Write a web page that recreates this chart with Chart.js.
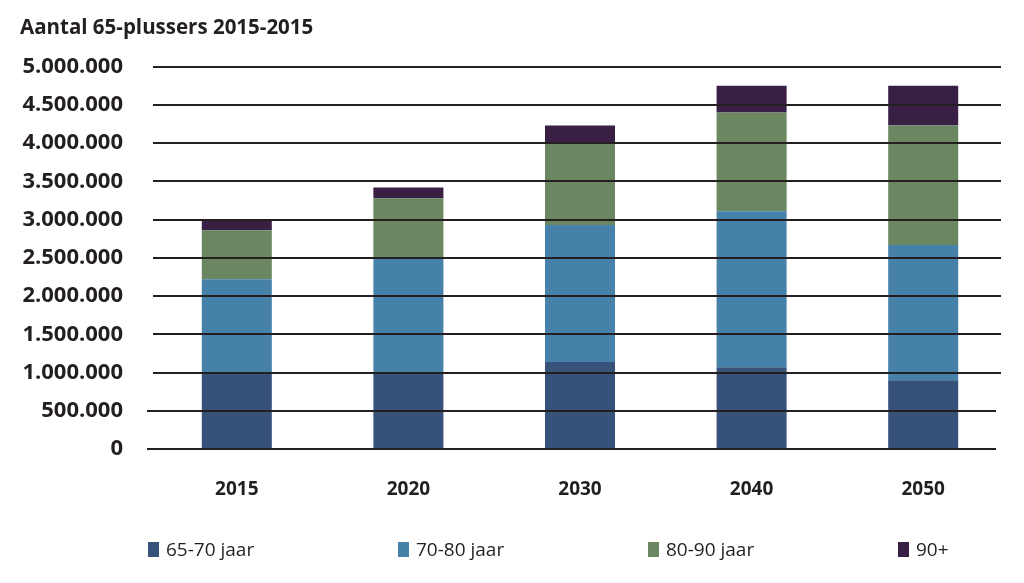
<!DOCTYPE html>
<html>
<head>
<meta charset="utf-8">
<script src="https://cdn.jsdelivr.net/npm/chart.js@4/dist/chart.umd.min.js"></script>
<style>
  body { margin: 0; background: #fff; }
  #wrap { position: relative; width: 1024px; height: 583px; }
  #legend {
    position: absolute; left: 148px; top: 536px;
    display: flex; font-family: "Open Sans", sans-serif; font-size: 19px; color: #231f20;
  }
  #legend .item { width: 250px; display: flex; align-items: center; }
  #legend .box { width: 11px; height: 15px; margin-right: 7px; }
</style>
</head>
<body>
<div id="wrap">
  <canvas id="chart" width="1024" height="583"></canvas>
  <div id="legend"></div>
</div>
<script>
const years = ["2015", "2020", "2030", "2040", "2050"];
const seriesNames = ["65-70 jaar", "70-80 jaar", "80-90 jaar", "90+"];
const age65to70 = [1000000, 1000000, 1140000, 1070000, 900000];
const age70to80 = [1220000, 1500000, 1790000, 2040000, 1770000];
const age80to90 = [640000, 780000, 1070000, 1290000, 1560000];
const age90plus = [140000, 140000, 230000, 350000, 520000];
const yTicks = [0, 500000, 1000000, 1500000, 2000000, 2500000, 3000000, 3500000, 4000000, 4500000, 5000000];

const colors = ["#36527a", "#4581a8", "#6a8762", "#3a1f45"];
const allSeries = [age65to70, age70to80, age80to90, age90plus];

// Dutch style thousands separator
function formatNum(v) {
  return String(v).replace(/\B(?=(\d{3})+(?!\d))/g, ".");
}

// draws the horizontal lines on top of the bars, like the original
const gridOnTop = {
  id: "gridOnTop",
  afterDatasetsDraw(chart) {
    const ctx = chart.ctx;
    const y = chart.scales.y;
    const area = chart.chartArea;
    ctx.save();
    ctx.strokeStyle = "#231f20";
    ctx.lineWidth = 2;
    yTicks.forEach((t) => {
      const py = Math.round(y.getPixelForValue(t));
      ctx.beginPath();
      if (t <= 500000) {
        ctx.moveTo(area.left - 4, py);
        ctx.lineTo(area.right - 13, py);
      } else {
        ctx.moveTo(area.left + 2, py);
        ctx.lineTo(area.right - 8, py);
      }
      ctx.stroke();
    });
    ctx.restore();
  },
};

let chart = new Chart(document.getElementById("chart").getContext("2d"), {
  type: "bar",
  data: {
    labels: years,
    datasets: allSeries.map((data, i) => ({
      label: seriesNames[i],
      data: data,
      backgroundColor: colors[i],
      borderWidth: 0,
      categoryPercentage: 1,
      barPercentage: 0.408,
    })),
  },
  options: {
    responsive: false,
    animation: false,
    layout: { padding: { left: 20, right: 15, top: 0, bottom: 61 }, autoPadding: false },
    plugins: {
      legend: { display: false },
      tooltip: { enabled: false },
      title: {
        display: true,
        text: "Aantal 65-plussers 2015-2015",
        align: "start",
        color: "#231f20",
        font: { family: "Open Sans", size: 20.5, weight: "bold" },
        padding: { top: 16, bottom: 26 },
      },
    },
    scales: {
      x: {
        stacked: true,
        grid: { display: false },
        border: { display: false },
        ticks: {
          color: "#231f20",
          padding: 21,
          font: { family: "Open Sans", size: 19, weight: "bold" },
        },
      },
      y: {
        stacked: true,
        min: 0,
        max: 5000000,
        grid: { display: false, drawTicks: false },
        border: { display: false },
        afterBuildTicks: (scale) => {
          scale.ticks = yTicks.map((v) => ({ value: v }));
        },
        afterFit: (scale) => {
          scale.width = 131;
        },
        ticks: {
          color: "#231f20",
          padding: 28,
          font: { family: "Open Sans", size: 22, weight: "bold" },
          callback: (v) => formatNum(v),
        },
      },
    },
  },
  plugins: [gridOnTop],
});

// legend built from the chart datasets
const legendEl = document.getElementById("legend");
chart.data.datasets.forEach((ds) => {
  legendEl.innerHTML += `<div class="item"><span class="box" style="background:${ds.backgroundColor}"></span>${ds.label}</div>`;
});
</script>
</body>
</html>
